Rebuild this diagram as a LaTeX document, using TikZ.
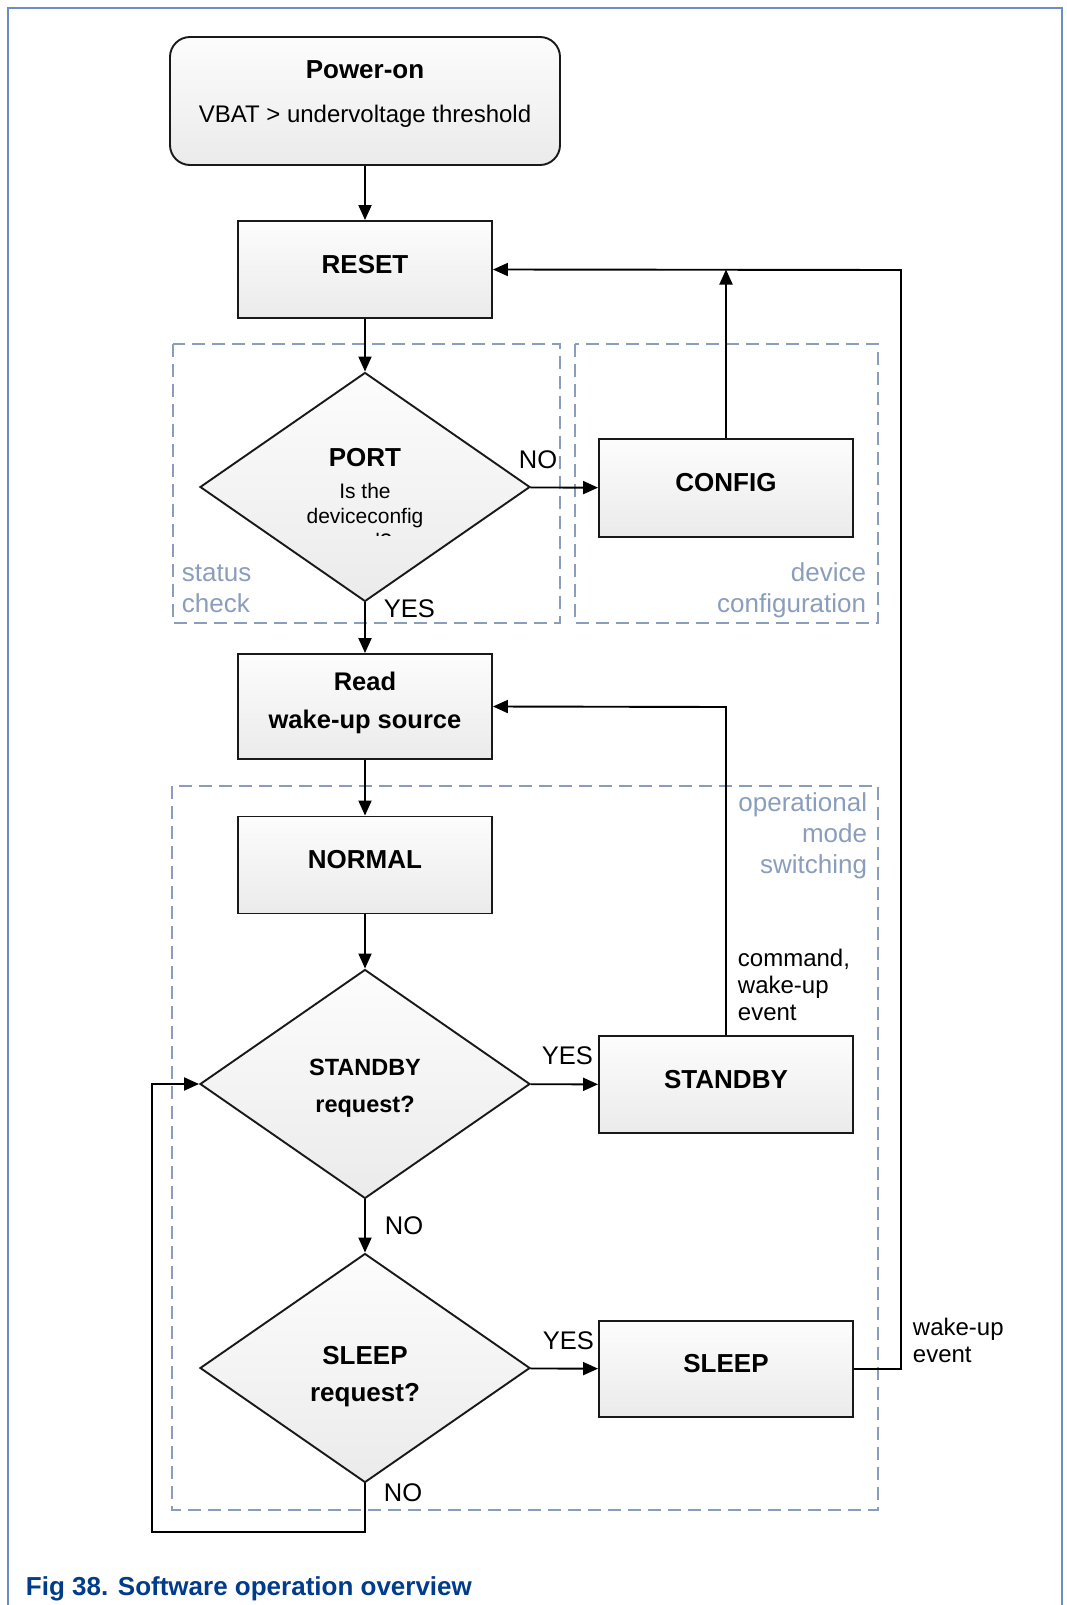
\documentclass[tikz,border=0pt]{standalone}
\usepackage{fontspec}
\setmainfont{Liberation Sans}
\usepackage{xcolor}
\usepackage{tikz}
\usetikzlibrary{positioning,shapes.geometric,arrows.meta}
\definecolor{framecol}{RGB}{105,142,200}
\definecolor{groupcol}{RGB}{138,157,188}
\definecolor{captioncol}{RGB}{0,59,140}
\newcommand{\fsz}[2]{\fontsize{#1}{#2}\selectfont}

\begin{document}
\begin{tikzpicture}[x=1pt,y=-1pt,
    box/.style={draw=black!90,line width=1.9pt,rectangle,minimum width=254pt,minimum height=97pt,
                inner sep=0pt,top color=white!99!black,bottom color=white!92!black,
                align=center,font=\fsz{26}{38}\bfseries,text height=7pt,text depth=0pt},
    decision/.style={draw=black!90,line width=1.9pt,diamond,minimum width=330pt,minimum height=229pt,
                inner sep=0pt,top color=white!99!black,bottom color=white!92!black,align=center,
                text depth=0pt},
    group/.style={draw=groupcol,line width=1.5pt,dash pattern=on 13pt off 7pt},
    grouplabel/.style={text=groupcol,inner sep=0pt,font=\fsz{26}{31}},
    lbl/.style={inner sep=0pt,font=\fsz{25.5}{30}},
    note/.style={inner sep=0pt,align=left,font=\fsz{24}{27}},
    >={Triangle[length=15pt,width=13pt]}, line width=1.9pt]
  \useasboundingbox (0,0) rectangle (1066,1605);
  % page frame
  \draw[framecol,line width=1.3pt] (8,1605) -- (8,8) -- (1062,8) -- (1062,1605);

  % dashed groups
  \draw[group] (173,344) rectangle (560,623);
  \draw[group] (575,344) rectangle (878,623);
  \draw[group] (172,786) rectangle (878,1510);
  \node[grouplabel,align=left,anchor=base west] (gstatus) at (181,612) {status\\check};
  \node[grouplabel,align=right,anchor=base east] (gdevice) at (867,612) {device\\configuration};
  \node[grouplabel,align=right,anchor=base east] (gmode) at (868,873) {operational\\mode\\switching};

  % main column
  \node[box,rounded corners=20pt,minimum width=390pt,minimum height=128pt,
        font=\fsz{24}{44},text height=44pt]
    (power) at (365,101) {{\fsz{26}{30}\bfseries Power-on}\\VBAT > undervoltage threshold};
  \node[box] (reset) at (365,269.5) {RESET};
  \node[decision,font=\fsz{21}{25},text height=72pt] (port) at (365,487)
    {{\fsz{26}{31}\bfseries PORT}\\[7pt]Is the\\deviceconfig};
  \begin{scope}
    \clip (300,528) rectangle (430,535);
    \node[inner sep=0pt,anchor=base,font=\fsz{21}{25}] (portcut) at (365,548) {ured?};
  \end{scope}
  \node[box,minimum height=105pt,font=\fsz{25.5}{38}\bfseries,text height=43pt]
    (read) at (365,706.5) {Read\\wake-up source};
  \node[box] (normal) at (365,865) {NORMAL};
  \node[decision,font=\fsz{23.5}{37}\bfseries,text height=56pt] (standbyq) at (365,1084) {STANDBY\\request?};
  \node[decision,font=\fsz{26}{37}\bfseries,text height=66pt] (sleepq) at (365,1368) {SLEEP\\request?};

  % right column
  \node[box,minimum height=98pt] (config) at (726,488) {CONFIG};
  \node[box] (standby) at (726,1084.5) {STANDBY};
  \node[box,minimum height=96pt] (sleep) at (726,1369) {SLEEP};

  % branch labels
  \node[lbl,anchor=base west] (portno) at (518,468) {NO};
  \node[lbl,anchor=base west] (portyes) at (383,617) {YES};
  \node[lbl,anchor=base west] (stbyes) at (541,1064) {YES};
  \node[lbl,anchor=base west] (stbno) at (384,1234) {NO};
  \node[lbl,anchor=base west] (slpyes) at (542,1349) {YES};
  \node[lbl,anchor=base west] (slpno) at (383,1501) {NO};
  \node[note,anchor=base west] (cmdnote) at (737,1020) {command,\\wake-up\\event};
  \node[note,anchor=base west] (wakenote) at (912,1362) {wake-up\\event};

  % helper points
  \coordinate (loopbl) at (152,1532);
  \coordinate (wakeup) at (901,270);
  \coordinate (cmd) at (726,707);

  % edges
  \draw[->] (power) -- (reset);
  \draw[->] (reset) -- (port);
  \draw[->] (port) -- (config);
  \draw[->] (port) -- (read);
  \draw[->] (read) -- (normal);
  \draw[->] (normal) -- (standbyq);
  \draw[->] (standbyq) -- (standby);
  \draw[->] (standbyq) -- (sleepq);
  \draw[->] (sleepq) -- (sleep);
  \draw[->] (sleepq.south) |- (loopbl) |- (standbyq.west);
  \draw[->] (sleep.east) -| (wakeup) -- (reset.east);
  \draw[->] (config.north) -- (config.north |- reset.east);
  \draw[->] (standby.north) -- (cmd) -- (read.east);

  % caption
  \node[inner sep=0pt,anchor=base west,text=captioncol,font=\fsz{26}{30}\bfseries]
    (caption) at (25,1595) {Fig 38. Software operation overview};
\end{tikzpicture}
\end{document}
